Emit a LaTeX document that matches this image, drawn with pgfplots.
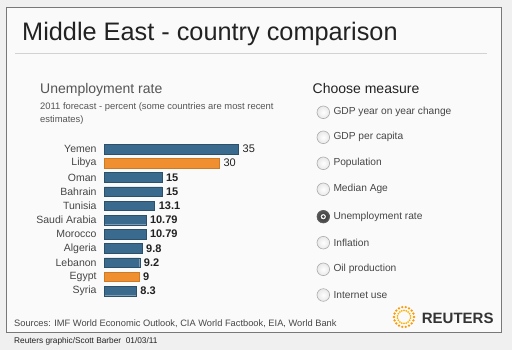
\documentclass[border=0pt]{standalone}
\usepackage{fontspec}
\setmainfont{Liberation Sans}
\usepackage{pgfplots}
\pgfplotsset{compat=1.18}
\definecolor{barblue}{RGB}{58,106,142}
\definecolor{barorange}{RGB}{239,143,47}
\definecolor{bggray}{RGB}{240,240,240}
\definecolor{bordergray}{RGB}{120,120,120}
\definecolor{titlecol}{RGB}{34,34,34}
\definecolor{subcol}{RGB}{85,85,85}
\definecolor{labcol}{RGB}{70,70,70}
\newcommand{\fs}[1]{\fontsize{#1}{#1}\selectfont}
\begin{document}
\begin{tikzpicture}[x=1pt,y=1pt]
\path[use as bounding box] (0,0) rectangle (512,350);
\fill[bggray] (0,0) rectangle (512,350);
\filldraw[fill=white!98!black, draw=bordergray, line width=0.8pt] (6,343) rectangle (501,17.5);
% title
\node[anchor=base west, inner sep=0pt, text=titlecol] at (22,309.3) {\fs{25.3}Middle East - country comparison};
\draw[gray!35, line width=0.8pt] (15,297) -- (487,297);
% chart headings
\node[anchor=base west, inner sep=0pt, text=subcol] at (40,256) {\fs{14}Unemployment rate};
\node[anchor=base west, inner sep=0pt, text=subcol] at (40,240.7) {\fs{9.4}2011 forecast - percent (some countries are most recent};
\node[anchor=base west, inner sep=0pt, text=subcol] at (40,227.3) {\fs{9.4}estimates)};
% measure selector
\node[anchor=base west, inner sep=0pt, text=titlecol] at (312.5,256) {\fs{14}Choose measure};
\foreach \yy/\lab in {112.3/GDP year on year change, 137.3/GDP per capita, 163.3/Population, 189.3/Median Age, 242.7/Inflation, 269.3/Oil production, 295/Internet use}{
  \shade[inner color=white, outer color=gray!18] (323.3,350-\yy) circle (6.3);
  \draw[gray!65, line width=0.6pt] (323.3,350-\yy) circle (6.3);
  \node[anchor=west, inner sep=0pt, text=labcol] at (333.3,350-\yy) {\fs{10.2}\lab};
}
\shade[inner color=gray!40!black, outer color=gray!70!black] (323.3,350-216.7) circle (6.3);
\draw[gray!70!black, line width=0.6pt] (323.3,350-216.7) circle (6.3);
\fill[white] (323.3,350-216.7) circle (2.6);
\fill[gray!60!black] (323.3,350-216.7) circle (1.6);
\node[anchor=west, inner sep=0pt, text=labcol] at (333.3,350-216.7) {\fs{10.2}Unemployment rate};
% sources and footer
\node[anchor=base west, inner sep=0pt, text=labcol] at (14,23.5) {\fs{9.3}Sources: IMF World Economic Outlook, CIA World Factbook, EIA, World Bank};
\node[anchor=base west, inner sep=0pt, text=titlecol] at (14,6.7) {\fs{8.3}Reuters graphic/Scott Barber\ \ 01/03/11};
% Reuters logo
\foreach \a in {0,20,...,340}{
  \fill[orange!80!yellow] ({404+10*cos(\a)},{33+10*sin(\a)}) circle (1.3);
  \fill[orange!60!yellow] ({404+6.5*cos(\a+10)},{33+6.5*sin(\a+10)}) circle (1.0);
}
\node[anchor=base west, inner sep=0pt, text=gray!40!black] at (421.7,26) {\fs{15}\bfseries REUTERS};
% bars
\begin{axis}[at={(104.5pt,51.9pt)}, anchor=south west, scale only axis,
  width=134pt, height=156.2pt,
  xmin=0, xmax=35, ymin=-0.5, ymax=10.5, y dir=reverse,
  axis line style={draw=none}, tick style={draw=none},
  xtick=\empty, ytick={0,...,10},
  yticklabels={Yemen,Libya,Oman,Bahrain,Tunisia,Saudi Arabia,Morocco,Algeria,Lebanon,Egypt,Syria},
  yticklabel style={font=\fs{10.5}, text=labcol, inner sep=0pt, xshift=-3.5pt},
  clip=false,
  xbar, bar width=9.5pt,
  point meta=explicit symbolic,
  nodes near coords,
  every node near coord/.append style={anchor=west, inner sep=0pt, xshift=4pt, text=titlecol},
]
\addplot[bar shift=0pt, fill=barblue, draw=barblue!75!black, every node near coord/.append style={font=\fs{11}}] coordinates {(35,0) [35]};
\addplot[bar shift=0pt, fill=barorange, draw=barorange!85!black, every node near coord/.append style={font=\fs{11}}] coordinates {(30,1) [30]};
\addplot[bar shift=0pt, fill=barblue, draw=barblue!75!black, every node near coord/.append style={font=\fs{11}\bfseries}] coordinates {
(15,2) [15]
(15,3) [15]
(13.1,4) [13.1]
(10.79,5) [10.79]
(10.79,6) [10.79]
(9.8,7) [9.8]
(9.2,8) [9.2]
(8.3,10) [8.3]
};
\addplot[bar shift=0pt, fill=barorange, draw=barorange!85!black, every node near coord/.append style={font=\fs{11}\bfseries}] coordinates {(9,9) [9]};
\end{axis}
\end{tikzpicture}
\end{document}
